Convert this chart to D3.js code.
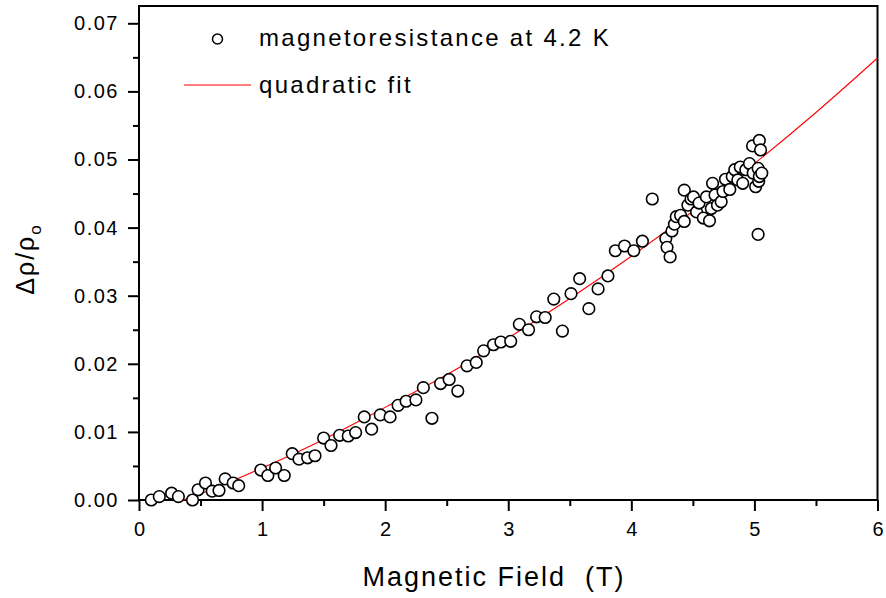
<!DOCTYPE html>
<html>
<head>
<meta charset="utf-8">
<script src="https://cdn.jsdelivr.net/npm/d3@7"></script>
<style>
  body { margin: 0; background: #fff; }
  svg { display: block; }
  text { font-family: Arial, "Liberation Sans", sans-serif; fill: #000; white-space: pre; }
</style>
</head>
<body>
<svg id="chart"></svg>
<script>
var fieldT = [0.10, 0.165, 0.265, 0.32, 0.435, 0.48, 0.54, 0.595, 0.65, 0.70, 0.765, 0.81,
  0.99, 1.047, 1.11, 1.18, 1.245, 1.30, 1.37, 1.43, 1.50, 1.56, 1.63, 1.70, 1.76, 1.83, 1.89, 1.96,
  2.04, 2.105, 2.17, 2.25, 2.31, 2.38, 2.45, 2.52, 2.59, 2.665, 2.74, 2.80, 2.88, 2.94,
  3.02, 3.09, 3.165, 3.23, 3.30, 3.37, 3.44, 3.51, 3.58, 3.655, 3.73, 3.81, 3.87, 3.945,
  4.02, 4.09, 4.17, 4.28, 4.29, 4.315, 4.33, 4.35, 4.365, 4.40, 4.43, 4.43, 4.46, 4.485,
  4.505, 4.53, 4.55, 4.585, 4.61, 4.635, 4.65, 4.66, 4.68, 4.70, 4.73, 4.745, 4.765, 4.80,
  4.82, 4.84, 4.865, 4.885, 4.905, 4.93, 4.96, 4.985, 4.99, 5.01, 5.03, 5.035, 5.04, 5.04,
  5.05, 5.06, 5.03];
var deltaRho = [0.0000, 0.0005, 0.0010, 0.0005, 0.0000, 0.0015, 0.0025, 0.0013, 0.0014, 0.0031, 0.0025, 0.0021,
  0.0044, 0.0036, 0.0047, 0.0036, 0.0068, 0.0060, 0.0062, 0.0065, 0.0091, 0.0080, 0.0095, 0.0094, 0.0099, 0.0122, 0.0104, 0.0125,
  0.0122, 0.0139, 0.0145, 0.0147, 0.0165, 0.0120, 0.0171, 0.0177, 0.0160, 0.0197, 0.0202, 0.0219, 0.0228, 0.0232,
  0.0233, 0.0258, 0.0250, 0.0269, 0.0268, 0.0295, 0.0248, 0.0303, 0.0325, 0.0281, 0.0310, 0.0329, 0.0366, 0.0373,
  0.0366, 0.0380, 0.0442, 0.0384, 0.0371, 0.0357, 0.0395, 0.0405, 0.0416, 0.0418, 0.0409, 0.0455, 0.0433, 0.0442,
  0.0445, 0.0423, 0.0436, 0.0414, 0.0445, 0.0410, 0.0428, 0.0465, 0.0448, 0.0433, 0.0438, 0.0453, 0.0471, 0.0456,
  0.0475, 0.0485, 0.0470, 0.0489, 0.0465, 0.0485, 0.0494, 0.0520, 0.0480, 0.0460, 0.0487, 0.0468, 0.0528, 0.0475,
  0.0514, 0.0480, 0.0390];

// quadratic fit curve
var fitX = [0.36, 0.5, 1, 1.5, 2, 2.5, 3, 3.5, 4, 4.5, 5, 5.5, 6];
var fitY = [0.0000, 0.0009, 0.0047, 0.0089, 0.0136, 0.0184, 0.0238, 0.0296, 0.0358, 0.0424, 0.0494, 0.0569, 0.0649];

var xTicks = [0, 1, 2, 3, 4, 5, 6];
var yTicks = [0, 0.01, 0.02, 0.03, 0.04, 0.05, 0.06, 0.07];

var width = 886, height = 598;
var plotLeft = 139, plotRight = 877.5, plotTop = 6, plotBottom = 500;

var svg = d3.select("#chart").attr("width", width).attr("height", height);

var x = d3.scaleLinear().domain([0, 6]).range([plotLeft, plotRight]);
var y = d3.scaleLinear().domain([0, 0.07]).range([plotBottom, 23.3]);

// minor ticks
var xMinor = d3.range(0.5, 6, 1);
var yMinor = d3.range(0.005, 0.0725, 0.01);

svg.append("g")
  .attr("transform", "translate(0," + plotBottom + ")")
  .call(d3.axisBottom(x).tickValues(xMinor).tickSize(6).tickFormat(""))
  .call(g => g.select(".domain").remove())
  .selectAll("line").attr("stroke-width", 2);

svg.append("g")
  .attr("transform", "translate(" + plotLeft + ",0)")
  .call(d3.axisLeft(y).tickValues(yMinor).tickSize(6).tickFormat(""))
  .call(g => g.select(".domain").remove())
  .selectAll("line").attr("stroke-width", 2);

var xAxis = svg.append("g")
  .attr("transform", "translate(0," + plotBottom + ")")
  .call(d3.axisBottom(x).tickValues(xTicks).tickSize(11).tickFormat(d3.format("d")));
xAxis.select(".domain").remove();
xAxis.selectAll("line").attr("stroke-width", 2);
xAxis.selectAll("text").style("font-size", "20px").attr("dy", null).attr("y", 36);

var yAxis = svg.append("g")
  .attr("transform", "translate(" + plotLeft + ",0)")
  .call(d3.axisLeft(y).tickValues(yTicks).tickSize(11).tickPadding(9).tickFormat(d3.format(".2f")));
yAxis.select(".domain").remove();
yAxis.selectAll("line").attr("stroke-width", 2);
yAxis.selectAll("text").style("font-size", "20px").style("letter-spacing", "1.5px");

// frame
svg.append("rect")
  .attr("x", plotLeft).attr("y", plotTop)
  .attr("width", plotRight - plotLeft).attr("height", plotBottom - plotTop)
  .attr("fill", "none").attr("stroke", "#000").attr("stroke-width", 2);

// fit line
var line = d3.line()
  .x(d => x(d[0]))
  .y(d => y(d[1]))
  .curve(d3.curveMonotoneX);

svg.append("path")
  .datum(fitX.map((v, i) => [v, fitY[i]]))
  .attr("d", line)
  .attr("fill", "none")
  .attr("stroke", "#ff0000")
  .attr("stroke-width", 1.1);

// data points
svg.append("g")
  .selectAll("circle")
  .data(fieldT.map((v, i) => [v, deltaRho[i]]))
  .join("circle")
  .attr("cx", d => x(d[0]))
  .attr("cy", d => y(d[1]))
  .attr("r", 5.8)
  .attr("fill", "#fff")
  .attr("stroke", "#000")
  .attr("stroke-width", 1.6);

// legend
svg.append("circle")
  .attr("cx", 217.5).attr("cy", 39).attr("r", 5)
  .attr("fill", "#fff").attr("stroke", "#000").attr("stroke-width", 1.5);
svg.append("text")
  .attr("x", 259).attr("y", 46)
  .style("font-size", "24px").style("letter-spacing", "2.3px")
  .text("magnetoresistance at 4.2 K");

svg.append("line")
  .attr("x1", 184).attr("x2", 251).attr("y1", 85).attr("y2", 85)
  .attr("stroke", "#ff0000").attr("stroke-width", 1.1);
svg.append("text")
  .attr("x", 259).attr("y", 93)
  .style("font-size", "24px").style("letter-spacing", "2.3px")
  .text("quadratic fit");

// axis titles
svg.append("text")
  .attr("x", 494).attr("y", 586)
  .attr("text-anchor", "middle")
  .style("font-size", "27px").style("letter-spacing", "2px")
  .text("Magnetic Field  (T)");

var yTitle = svg.append("text")
  .attr("transform", "translate(34,259) rotate(-90)")
  .attr("text-anchor", "middle")
  .style("font-size", "25px").style("letter-spacing", "2px");
yTitle.append("tspan").text("Δρ/ρ");
yTitle.append("tspan").attr("dy", 7).style("font-size", "17px").text("o");
</script>
</body>
</html>
